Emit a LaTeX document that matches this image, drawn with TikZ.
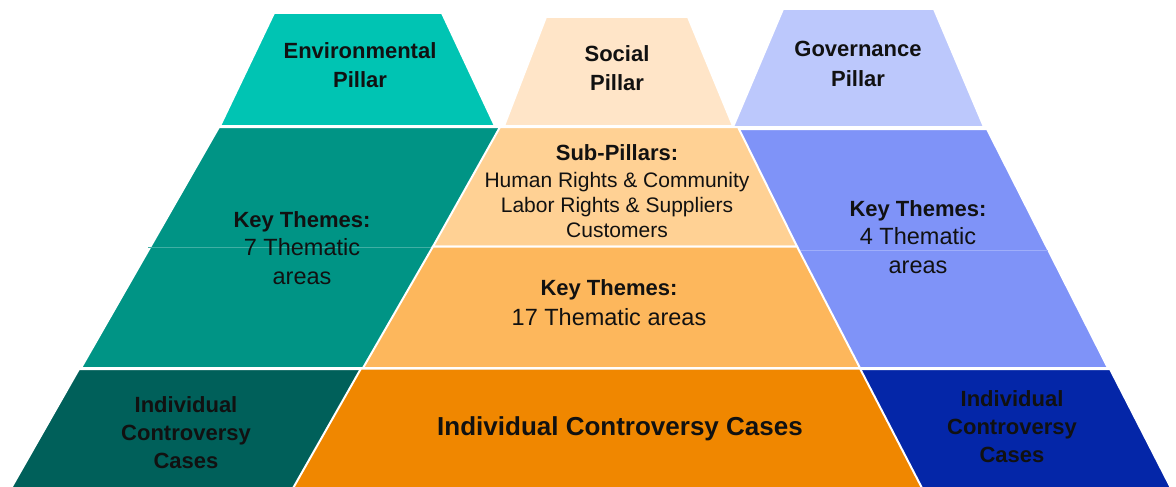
\documentclass[tikz,border=0pt]{standalone}
\usepackage{fontspec}
\setmainfont{Liberation Sans}
\definecolor{envA}{HTML}{00C4B3}
\definecolor{envB}{HTML}{009485}
\definecolor{envC}{HTML}{00605A}
\definecolor{socA}{HTML}{FFE5C8}
\definecolor{socB}{HTML}{FFD194}
\definecolor{socC}{HTML}{FDB75C}
\definecolor{socD}{HTML}{F08700}
\definecolor{govA}{HTML}{BCC8FC}
\definecolor{govB}{HTML}{7F93F8}
\definecolor{govC}{HTML}{0426A8}
\definecolor{txt}{HTML}{111111}
\begin{document}
\begin{tikzpicture}[x=1pt,y=-1pt,
  layer/.style={draw=white,line width=2pt,line join=miter},
  seam/.style={line width=0.8pt},
  hd/.style={font=\fontsize{22}{29}\selectfont\bfseries,align=center,anchor=base,text=txt,inner sep=0pt},
  bd/.style={font=\fontsize{23.5}{28.5}\selectfont,align=center,anchor=base,text=txt,inner sep=0pt},
  sb/.style={font=\fontsize{21}{25}\selectfont,align=center,anchor=base,text=txt,inner sep=0pt}]
\useasboundingbox (0,0) rectangle (1176,487);
\clip (0,0) rectangle (1176,487);
% Environmental pyramid
\fill[layer,fill=envA] (274,13) -- (442,13) -- (495,126) -- (220,126) -- cycle;
\fill[layer,fill=envB] (219,127) -- (500,127) -- (560,368) -- (81,368) -- cycle;
\draw[seam,draw=envB!75!white] (148,247) -- (540,247);
\fill[layer,fill=envC] (79,369) -- (520,369) -- (560,490) -- (10,490) -- cycle;
% Governance pyramid
\fill[layer,fill=govA] (783,9) -- (934,9) -- (984,127) -- (733,127) -- cycle;
\fill[layer,fill=govB] (737,129) -- (987,129) -- (1108,368) -- (700,368) -- cycle;
\draw[seam,draw=govB!75!white] (780,250) -- (1048,250);
\fill[layer,fill=govC] (700,369) -- (1110,369) -- (1172,490) -- (700,490) -- cycle;
% Social pyramid
\fill[layer,fill=socA] (546,17) -- (688,17) -- (733,126) -- (504,126) -- cycle;
\fill[layer,fill=socB] (500,127) -- (738,127) -- (797,246.5) -- (433,246.5) -- cycle;
\fill[layer,fill=socC] (433,246.5) -- (797,246.5) -- (860,368) -- (363,368) -- cycle;
\fill[layer,fill=socD] (361,368.5) -- (860,368.5) -- (923,490) -- (292,490) -- cycle;
% Texts (anchor=base is the baseline of the last line)
\node[hd] (envhead) at (360,88) {Environmental\\Pillar};
\node[hd] (sochead) at (617,91) {Social\\Pillar};
\node[hd] (govhead) at (858,86) {Governance\\Pillar};
\node[sb] (socsub) at (617,237) {{\bfseries\fontsize{22}{25}\selectfont Sub-Pillars:}\\[2pt]Human Rights \& Community\\Labor Rights \& Suppliers\\Customers};
\node[bd] (envkey) at (302,284) {{\bfseries\fontsize{22}{28.5}\selectfont Key Themes:}\\7 Thematic\\areas};
\node[bd] (govkey) at (918,273) {{\bfseries\fontsize{22}{28.5}\selectfont Key Themes:}\\4 Thematic\\areas};
\node[bd] (sockey) at (609,325) {{\bfseries\fontsize{22}{30}\selectfont Key Themes:}\\[1.5pt]17 Thematic areas};
\node[hd,font=\fontsize{22}{28}\selectfont\bfseries] (envcase) at (186,468) {Individual\\Controversy\\Cases};
\node[hd,font=\fontsize{22}{28}\selectfont\bfseries] (govcase) at (1012,462) {Individual\\Controversy\\Cases};
\node[hd,font=\fontsize{26}{30}\selectfont\bfseries] (soccase) at (620,435) {Individual Controversy Cases};
\end{tikzpicture}
\end{document}
